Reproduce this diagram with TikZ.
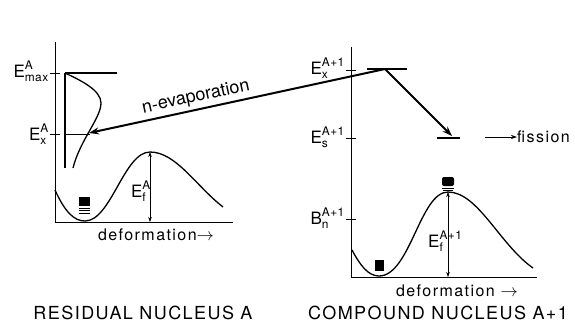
\documentclass[tikz,border=0pt]{standalone}
\usepackage{fontspec}
\usepackage{amsmath}
\setmainfont{TeX Gyre Heros}[LetterSpace=4]
\newfontfamily\wordfont{TeX Gyre Heros}[LetterSpace=9]
\newfontfamily\plainfont{TeX Gyre Heros}
\newfontfamily\titlefont{TeX Gyre Heros}[LetterSpace=8]
\usetikzlibrary{arrows.meta}
\newcommand\lev[3]{$\text{#1}^{\text{#2}}_{\text{#3}}$}
\tikzset{
  axis/.style={line width=0.7pt},
  curve/.style={line width=1.3pt},
  tick/.style={line width=0.7pt},
  bigarrow/.style={line width=2pt,-{Stealth[length=10pt,width=7pt]}},
  dimarrow/.style={line width=0.5pt,{Stealth[length=5pt,width=3.5pt]}-{Stealth[length=5pt,width=3.5pt]}},
  smallarrow/.style={line width=0.6pt,-{Stealth[length=6pt,width=4pt]}},
  lbl/.style={font=\fontsize{17}{17}\selectfont, inner sep=0pt},
  word/.style={font=\wordfont\fontsize{16}{16}\selectfont, inner sep=0pt},
  slopeword/.style={font=\plainfont\fontsize{18}{18}\selectfont, inner sep=0pt},
  title/.style={font=\titlefont\fontsize{18}{18}\selectfont, inner sep=0pt}
}
\begin{document}
\begin{tikzpicture}[x=1pt,y=-1pt]
\useasboundingbox (0,0) rectangle (575,322);

% ---------- left panel: residual nucleus ----------
\draw[axis] (55,42) -- (55,222) -- (233,222);
\draw[tick] (50,73) -- (60,73);
\draw[tick] (50,134) -- (60,134);
\node[lbl, anchor=base east] (emaxA) at (49,77) {\lev{E}{A}{max}};
\node[lbl, anchor=base east] (exA) at (49,140) {\lev{E}{A}{x}};

% excitation distribution
\draw[curve] (65,73) -- (117,73);
\draw[curve] (65,73) -- (65,168);
\draw[curve] (65,73) .. controls (80,80) and (101,90) .. (101,103)
                     .. controls (101,118) and (80,140) .. (73,168);
\draw[tick] (65,134) -- (90,134);

% potential A
\draw[curve] (55,190) .. controls (65,212) and (74,221) .. (85,221)
                      .. controls (111,221) and (124,152) .. (150,152)
                      .. controls (176,152) and (196,186) .. (223,207);
\fill (79,197) rectangle (90,206);
\draw[line width=0.8pt] (79,208.5) -- (90,208.5) (79,210.7) -- (90,210.7) (79,212.9) -- (90,212.9);
\coordinate (lpk) at (150,152);
\coordinate (lbase) at (150,222);
\draw[dimarrow] (lpk) -- (lbase);
\node[lbl, anchor=base east] (efA) at (151,197) {\lev{E}{A}{f}};
\node[word] (defA) at (156,235) {deformation$\rightarrow$};
\node[title] (resid) at (143,313) {RESIDUAL NUCLEUS A};

% ---------- right panel: compound nucleus ----------
\draw[axis] (351,47) -- (351,277) -- (537,277);
\draw[tick] (346,70) -- (356,70);
\draw[tick] (346,138) -- (356,138);
\draw[tick] (346,219) -- (356,219);
\node[lbl, anchor=base east] (exC) at (345,74) {\lev{E}{A+1}{x}};
\node[lbl, anchor=base east] (esC) at (345,143) {\lev{E}{A+1}{s}};
\node[lbl, anchor=base east] (bnC) at (345,224) {\lev{B}{A+1}{n}};

\draw[curve] (367,69) -- (407,69);
\coordinate (cx) at (385,69);
\coordinate (rx) at (89,133);
\coordinate (sx) at (452,136);
\draw[bigarrow] (cx) -- (rx)
  node[slopeword, pos=0.63, sloped, above=3pt] (nev) {n-evaporation};
\draw[bigarrow] (cx) -- (sx);
\draw[curve] (437,138) -- (460,138);
\node[word, anchor=west] (fis) at (517,137) {fission};
\coordinate (fa) at (485,137);
\draw[smallarrow] (fa) -- (fis.west);

% potential A+1
\draw[curve] (352,250) .. controls (360,265) and (368,276) .. (379,276)
                       .. controls (410,276) and (420,192) .. (448,192)
                       .. controls (478,192) and (500,245) .. (533,268);
\fill (375,260) rectangle (384,271);
\fill[rounded corners=2pt] (442,177) rectangle (454,186);
\draw[line width=0.8pt] (442,188) -- (454,188) (443,190) -- (453,190);
\coordinate (rpk) at (448,192);
\coordinate (rbase) at (448,277);
\draw[dimarrow] (rpk) -- (rbase);
\node[lbl, anchor=base west] (efC) at (428,247) {\lev{E}{A+1}{f}};
\node[word] (defC) at (457,291) {deformation $\rightarrow$};
\node[title] (comp) at (438,313) {COMPOUND NUCLEUS A+1};
\end{tikzpicture}
\end{document}
